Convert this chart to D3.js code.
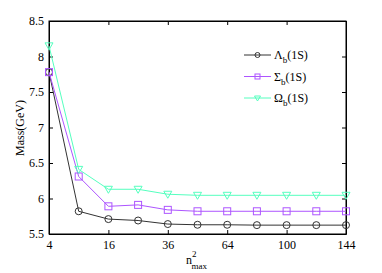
<!DOCTYPE html>
<html>
<head>
<meta charset="utf-8">
<script src="https://cdn.jsdelivr.net/npm/d3@7"></script>
<style>
  body { margin: 0; background: #fff; }
  svg text { font-family: "Liberation Serif", "Times New Roman", "DejaVu Serif", serif !important; }
</style>
</head>
<body>
<svg id="chart"></svg>
<script>
// n_max values (axis is linear in n_max, labelled with n_max^2)
var nmax = [2, 3, 4, 5, 6, 7, 8, 9, 10, 11, 12];
var tickN = [2, 4, 6, 8, 10, 12];
var yTicks = [5.5, 6, 6.5, 7, 7.5, 8, 8.5];

var lambdaB = [7.78, 5.82, 5.71, 5.69, 5.64, 5.63, 5.63, 5.625, 5.625, 5.625, 5.625];
var sigmaB  = [7.78, 6.31, 5.89, 5.91, 5.84, 5.82, 5.82, 5.82, 5.82, 5.82, 5.82];
var omegaB  = [8.15, 6.41, 6.13, 6.13, 6.06, 6.045, 6.045, 6.045, 6.045, 6.045, 6.045];

var series = [
  {name: "Λ", values: lambdaB, color: "#333333", symbol: "circle"},
  {name: "Σ", values: sigmaB, color: "#ad55ff", symbol: "square"},
  {name: "Ω", values: omegaB, color: "#55ffbf", symbol: "triangle"}
];

var W = 382, H = 273;
var margin = {top: 21, right: 36, bottom: 39, left: 49},
    width = W - margin.left - margin.right,
    height = H - margin.top - margin.bottom;

var svg = d3.select("#chart").attr("width", W).attr("height", H)
    .style("font-family", "'Liberation Serif', serif");
var chart = svg.append("g")
    .attr("transform", "translate(" + margin.left + "," + margin.top + ")");

var x = d3.scaleLinear().domain([2, 12]).range([0, width]);
var y = d3.scaleLinear().domain([5.5, 8.5]).range([height, 0]);

// frame
chart.append("rect")
    .attr("width", width).attr("height", height)
    .attr("fill", "none").attr("stroke", "#000").attr("stroke-width", 1);

var xAxis = d3.axisBottom(x).tickValues(tickN)
    .tickFormat(function(d) { return d * d; })
    .tickSizeInner(-4).tickSizeOuter(0).tickPadding(6);
var yAxis = d3.axisLeft(y).tickValues(yTicks)
    .tickFormat(d3.format("")).tickSizeInner(-4).tickSizeOuter(0).tickPadding(5);

chart.append("g").attr("transform", "translate(0," + height + ")").call(xAxis);
chart.append("g").call(yAxis);
// mirrored ticks on top and right
chart.append("g").call(d3.axisTop(x).tickValues(tickN).tickFormat("").tickSizeInner(-4).tickSizeOuter(0));
chart.append("g").attr("transform", "translate(" + width + ",0)")
    .call(d3.axisRight(y).tickValues(yTicks).tickFormat("").tickSizeInner(-4).tickSizeOuter(0));

chart.selectAll("g").attr("font-family", null);
chart.selectAll(".domain").attr("stroke", "#000");
chart.selectAll(".tick line").attr("stroke", "#000");
chart.selectAll(".tick text").attr("font-size", 12).attr("fill", "#000");

var line = d3.line()
    .x(function(d, i) { return x(nmax[i]); })
    .y(function(d) { return y(d); });

function drawMarker(g, sym, cx, cy, r, color) {
  if (sym === "circle") {
    g.append("circle").attr("cx", cx).attr("cy", cy).attr("r", r)
      .attr("fill", "none").attr("stroke", color);
  } else if (sym === "square") {
    g.append("rect").attr("x", cx - r).attr("y", cy - r)
      .attr("width", 2 * r).attr("height", 2 * r)
      .attr("fill", "none").attr("stroke", color);
  } else {
    g.append("path")
      .attr("d", "M" + (cx - r - 0.5) + "," + (cy - r + 0.5) + "L" + (cx + r + 0.5) + "," + (cy - r + 0.5) + "L" + cx + "," + (cy + r + 0.5) + "Z")
      .attr("fill", "none").attr("stroke", color);
  }
}

series.forEach(function(s) {
  chart.append("path")
      .datum(s.values)
      .attr("fill", "none")
      .attr("stroke", s.color)
      .attr("stroke-width", 1)
      .attr("d", line);
  var mg = chart.append("g");
  s.values.forEach(function(v, i) {
    drawMarker(mg, s.symbol, x(nmax[i]), y(v), 3.5, s.color);
  });
});

// legend
var legend = svg.append("g");
series.forEach(function(s, i) {
  var ly = 55 + i * 21.5;
  legend.append("line")
      .attr("x1", 244).attr("x2", 271).attr("y1", ly).attr("y2", ly)
      .attr("stroke", s.color);
  drawMarker(legend, s.symbol, 257.5, ly, 2.5, s.color);
  var t = legend.append("text").attr("x", 274).attr("y", ly + 4)
      .attr("font-size", 12);
  t.append("tspan").text(s.name);
  t.append("tspan").attr("font-size", 9).attr("dy", 4).text("b");
  t.append("tspan").attr("dy", -4).text("(1S)");
});

// axis titles
svg.append("text")
    .attr("transform", "translate(24,128) rotate(-90)")
    .attr("text-anchor", "middle").attr("font-size", 12)
    .text("Mass(GeV)");

var xl = svg.append("text").attr("x", 186).attr("y", 264).attr("font-size", 12);
xl.append("tspan").text("n");
xl.append("tspan").attr("font-size", 9).attr("dy", -7).text("2");
xl.append("tspan").attr("font-size", 9).attr("dx", -5).attr("dy", 12).text("max");
</script>
</body>
</html>
